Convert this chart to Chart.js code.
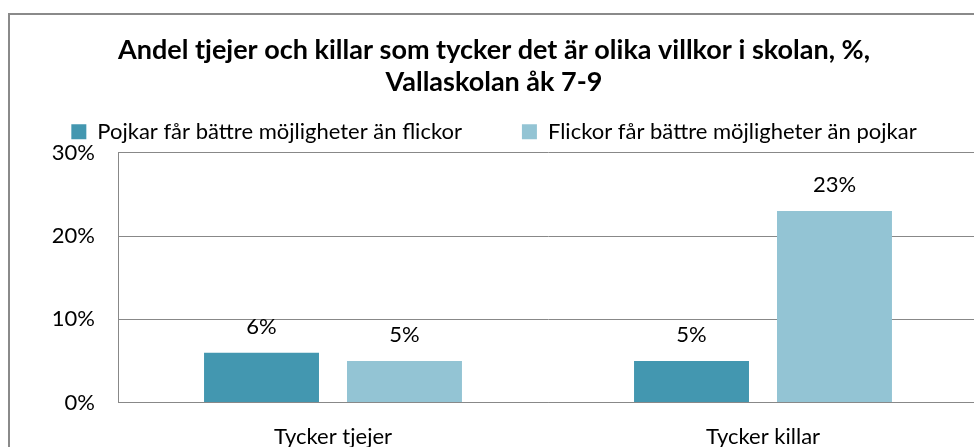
<!DOCTYPE html>
<html lang="sv">
<head>
<meta charset="utf-8">
<title>Andel tjejer och killar</title>
<script src="https://cdn.jsdelivr.net/npm/chart.js@4/dist/chart.umd.min.js"></script>
<style>
  html, body { margin: 0; padding: 0; background: #fff; overflow: hidden; }
  #frame {
    position: absolute; left: 8px; top: 13px;
    width: 996px; height: 460px;
    border: 2px solid #8a8a8a; box-sizing: border-box;
  }
  #wrap { position: absolute; left: 0; top: 0; width: 992px; height: 456px; }
</style>
</head>
<body>
<div id="frame"><div id="wrap"><canvas id="chart"></canvas></div></div>
<script>
const categories = ['Tycker tjejer', 'Tycker killar'];
const seriesNames = ['Pojkar får bättre möjligheter än flickor', 'Flickor får bättre möjligheter än pojkar'];
const pojkarBattre = [6, 5];
const flickorBattre = [5, 23];
const yTicks = [0, 10, 20, 30];
const titleLines = ['Andel tjejer och killar som tycker det är olika villkor i skolan, %,', 'Vallaskolan åk 7-9'];

const FONT = 'Lato, "Open Sans", sans-serif';
const darkTeal = '#4397b0';
const lightBlue = '#93c4d4';

// värdetiketter ovanför staplarna
const valueLabels = {
  id: 'valueLabels',
  afterDatasetsDraw(chart) {
    const ctx = chart.ctx;
    ctx.save();
    ctx.font = '22px ' + FONT;
    ctx.fillStyle = '#000';
    ctx.textAlign = 'center';
    ctx.textBaseline = 'alphabetic';
    chart.data.datasets.forEach((ds, i) => {
      chart.getDatasetMeta(i).data.forEach((bar, j) => {
        ctx.fillText(ds.data[j] + '%', bar.x, bar.y - 19);
      });
    });
    ctx.restore();
  }
};

new Chart(document.getElementById('chart'), {
  type: 'bar',
  data: {
    labels: categories,
    datasets: [
      { label: seriesNames[0], data: pojkarBattre, backgroundColor: darkTeal },
      { label: seriesNames[1], data: flickorBattre, backgroundColor: lightBlue }
    ]
  },
  options: {
    responsive: true,
    maintainAspectRatio: false,
    animation: false,
    layout: { padding: { left: 0, right: 24, top: 0, bottom: 0 } },
    datasets: { bar: { categoryPercentage: 0.665, barPercentage: 0.804 } },
    plugins: {
      title: {
        display: true,
        text: titleLines,
        color: '#000',
        font: { family: FONT, size: 27, weight: 'bold', lineHeight: 1.2 },
        padding: { top: 19, bottom: -38 }
      },
      legend: {
        position: 'top',
        labels: {
          color: '#000',
          font: { family: FONT, size: 22 },
          boxWidth: 15,
          boxHeight: 15,
          padding: 60
        }
      },
      tooltip: { enabled: false }
    },
    scales: {
      x: {
        grid: { display: false, drawTicks: false },
        border: { color: '#888', width: 1 },
        ticks: { color: '#000', font: { family: FONT, size: 22 }, padding: 21 }
      },
      y: {
        min: 0,
        max: 30,
        afterBuildTicks(axis) { axis.ticks = yTicks.map(v => ({ value: v })); },
        afterFit(axis) { axis.width = 108; },
        grid: { color: '#888', lineWidth: 1, drawTicks: false },
        border: { color: '#888', width: 1 },
        ticks: { color: '#000', font: { family: FONT, size: 22 }, padding: 23, callback: v => v + '%' }
      }
    }
  },
  plugins: [valueLabels]
});
</script>
</body>
</html>
